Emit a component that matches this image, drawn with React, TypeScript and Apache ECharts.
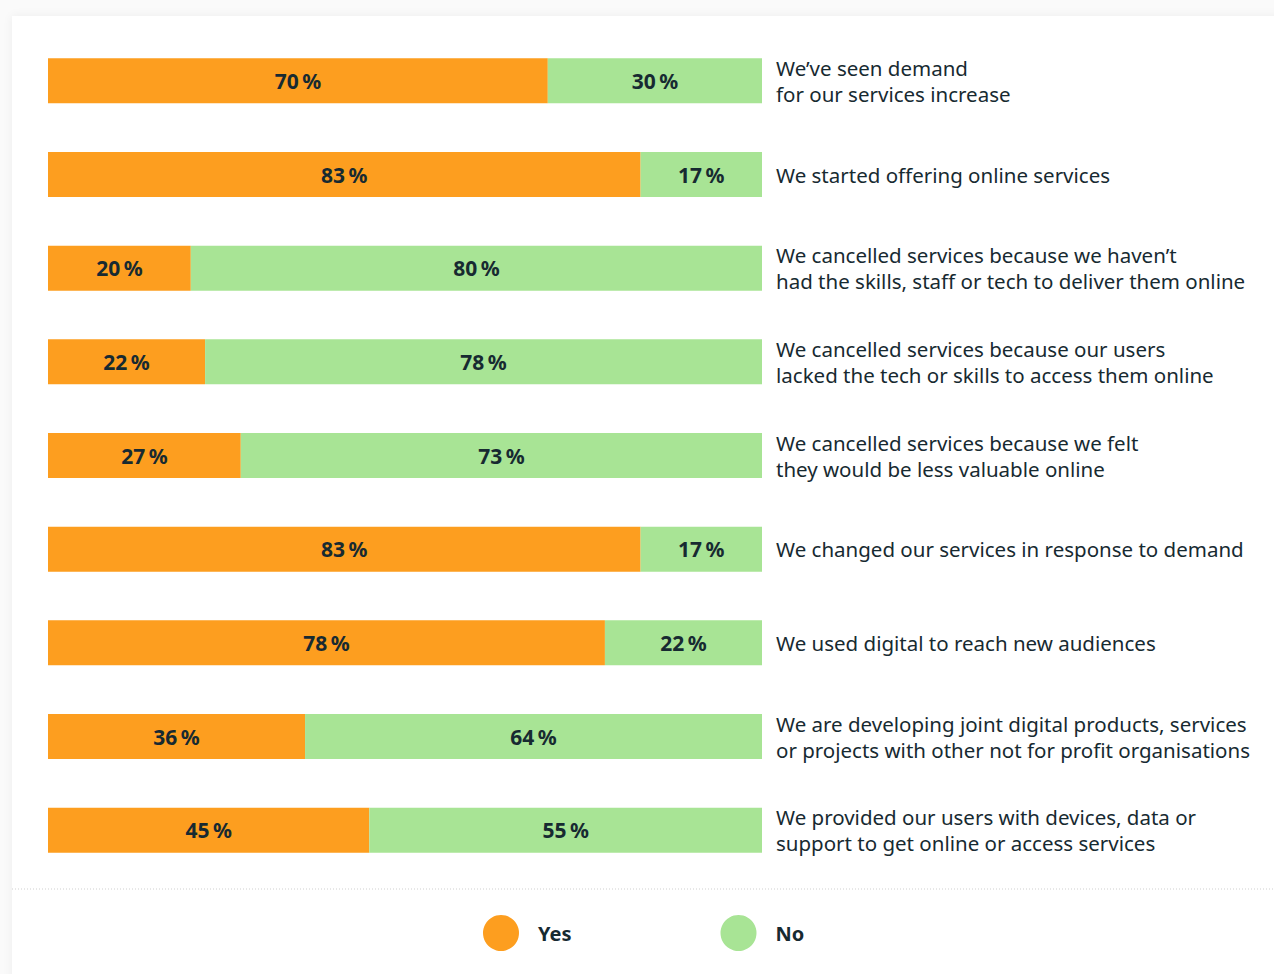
import React, { useEffect, useRef } from "react";
import * as echarts from "echarts";

const categories = [
  "We’ve seen demand\nfor our services increase",
  "We started offering online services",
  "We cancelled services because we haven’t\nhad the skills, staff or tech to deliver them online",
  "We cancelled services because our users\nlacked the tech or skills to access them online",
  "We cancelled services because we felt\nthey would be less valuable online",
  "We changed our services in response to demand",
  "We used digital to reach new audiences",
  "We are developing joint digital products, services\nor projects with other not for profit organisations",
  "We provided our users with devices, data or\nsupport to get online or access services",
];
const yesValues = [70, 83, 20, 22, 27, 83, 78, 36, 45];
const noValues = [30, 17, 80, 78, 73, 17, 22, 64, 55];
const seriesNames = ["Yes", "No"];

const ORANGE = "#FD9E1F";
const GREEN = "#A8E495";
const TEXT = "#172A31";
const FONT = "'Noto Sans', 'Open Sans', sans-serif";

export default function App() {
  const ref = useRef<HTMLDivElement>(null);
  useEffect(() => {
    if (!ref.current) return;
    const chart = echarts.init(ref.current, null, { renderer: "svg" });
    const label = {
      show: true,
      position: "inside" as const,
      formatter: "{c}\u2009%",
      fontSize: 21,
      fontWeight: "bold" as const,
      color: TEXT,
      fontFamily: FONT,
    };
    chart.setOption({
      animation: false,
      backgroundColor: "transparent",
      grid: { left: 48, right: 512, top: 34, height: 843, containLabel: false },
      xAxis: { type: "value", min: 0, max: 100, show: false },
      yAxis: {
        type: "category",
        inverse: true,
        position: "right",
        data: categories,
        axisLine: { show: false },
        axisTick: { show: false },
        splitLine: { show: false },
        axisLabel: {
          margin: 14,
          align: "left",
          fontSize: 20.5,
          lineHeight: 26,
          color: TEXT,
          fontFamily: FONT,
        },
      },
      legend: {
        data: seriesNames,
        icon: "circle",
        itemWidth: 36,
        itemHeight: 36,
        left: 483,
        top: 915,
        padding: 0,
        itemGap: 149,
        selectedMode: false,
        textStyle: {
          fontSize: 20,
          fontWeight: "bold",
          color: TEXT,
          fontFamily: FONT,
          padding: [0, 0, 0, 14],
        },
      },
      graphic: [
        {
          type: "line",
          shape: { x1: 12, y1: 889, x2: 1274, y2: 889 },
          style: { stroke: "#cfcfcf", lineWidth: 1, lineDash: [1, 2] },
          silent: true,
        },
      ],
      series: [
        {
          name: seriesNames[0],
          type: "bar",
          stack: "total",
          barWidth: 45,
          data: yesValues,
          itemStyle: { color: ORANGE },
          label,
        },
        {
          name: seriesNames[1],
          type: "bar",
          stack: "total",
          barWidth: 45,
          data: noValues,
          itemStyle: { color: GREEN },
          label,
        },
      ],
    });
    return () => chart.dispose();
  }, []);
  return (
    <div style={{ position: "fixed", left: 0, top: 0, width: 1274, height: 974, background: "#fafafa", overflow: "hidden" }}>
      <div
        style={{
          position: "absolute",
          left: 12,
          top: 16,
          width: 1320,
          height: 1000,
          background: "#ffffff",
          boxShadow: "0 0 10px rgba(0,0,0,0.06)",
        }}
      />
      <div ref={ref} style={{ position: "absolute", left: 0, top: 0, width: 1274, height: 974 }} />
    </div>
  );
}
